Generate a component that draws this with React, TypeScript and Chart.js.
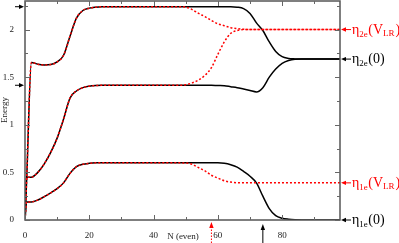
import React, { useEffect, useRef } from "react";
import { Chart, registerables } from "chart.js";
Chart.register(...registerables);

const N = [0, 0.5, 2, 4, 6, 8, 10, 12, 14, 16, 18, 20, 22, 24, 30, 40, 46, 48, 50, 52, 54, 56, 58, 60, 62, 64, 66, 68, 70, 72, 74, 76, 78, 80, 82, 84, 86, 90, 98];

const lowerBlack = [0, 0.19, 0.19, 0.21, 0.245, 0.285, 0.33, 0.39, 0.49, 0.56, 0.585, 0.595, 0.6, 0.6, 0.6, 0.6, 0.6, 0.6, 0.6, 0.6, 0.6, 0.6, 0.6, 0.6, 0.595, 0.58, 0.555, 0.51, 0.46, 0.39, 0.25, 0.12, 0.045, 0.018, 0.008, 0.003, 0.001, 0, 0];
const middleBlack = [0, 0.45, 0.45, 0.5, 0.59, 0.71, 0.86, 1.06, 1.28, 1.355, 1.39, 1.405, 1.412, 1.415, 1.415, 1.415, 1.415, 1.415, 1.415, 1.415, 1.415, 1.415, 1.415, 1.412, 1.41, 1.4, 1.39, 1.375, 1.36, 1.345, 1.39, 1.5, 1.585, 1.645, 1.675, 1.688, 1.69, 1.69, 1.69];
const upperBlack = [0, 0.41, 1.655, 1.635, 1.628, 1.632, 1.66, 1.73, 1.93, 2.12, 2.2, 2.225, 2.235, 2.24, 2.24, 2.24, 2.24, 2.24, 2.24, 2.24, 2.24, 2.24, 2.24, 2.24, 2.24, 2.24, 2.235, 2.22, 2.17, 2.07, 1.99, 1.87, 1.77, 1.715, 1.697, 1.692, 1.69, 1.69, 1.69];

const lowerRed = [0, 0.19, 0.19, 0.21, 0.245, 0.285, 0.33, 0.39, 0.49, 0.56, 0.585, 0.595, 0.6, 0.6, 0.6, 0.6, 0.6, 0.6, 0.598, 0.585, 0.55, 0.515, 0.47, 0.44, 0.412, 0.398, 0.391, 0.39, 0.39, 0.39, 0.39, 0.39, 0.39, 0.39, 0.39, 0.39, 0.39, 0.39, 0.39];
const middleRed = [0, 0.45, 0.45, 0.5, 0.59, 0.71, 0.86, 1.06, 1.28, 1.355, 1.39, 1.405, 1.412, 1.415, 1.415, 1.415, 1.415, 1.415, 1.42, 1.44, 1.47, 1.52, 1.6, 1.74, 1.87, 1.96, 1.99, 2.0, 2.0, 2.0, 2.0, 2.0, 2.0, 2.0, 2.0, 2.0, 2.0, 2.0, 2.0];
const upperRed = [0, 0.41, 1.655, 1.635, 1.628, 1.632, 1.66, 1.73, 1.93, 2.12, 2.2, 2.225, 2.235, 2.24, 2.24, 2.24, 2.24, 2.24, 2.235, 2.21, 2.17, 2.135, 2.095, 2.06, 2.04, 2.02, 2.01, 2.003, 2.0, 2.0, 2.0, 2.0, 2.0, 2.0, 2.0, 2.0, 2.0, 2.0, 2.0];

const xTickLabels = [0, 20, 40, 60, 80];
const xMinorTicks = [10, 30, 50, 70, 90];
const yTickLabels = [0, 0.5, 1, 1.5, 2];
const yMinorTicks = [0.25, 0.75, 1.25, 1.75, 2.25];

const rightLevels = [2.0, 1.69, 0.39, 0];
const rightSubs = ["2e", "2e", "1e", "1e"];
const rightArgs = ["VLR", "0", "VLR", "0"];
const leftArrowLevels = [2.24, 1.415];
const bottomArrowRed = 58;
const bottomArrowBlack = 74;

const RED = "#ff0000";
const SERIF = "'Liberation Serif', 'DejaVu Serif', serif";

function pts(vals: number[]) {
  return N.map((n, i) => ({ x: n, y: vals[i] }));
}

function arrowHead(ctx: CanvasRenderingContext2D, tx: number, ty: number, dx: number, dy: number, len: number, hw: number) {
  ctx.beginPath();
  ctx.moveTo(tx, ty);
  ctx.lineTo(tx - dx * len - dy * hw, ty - dy * len + dx * hw);
  ctx.lineTo(tx - dx * len + dy * hw, ty - dy * len - dx * hw);
  ctx.closePath();
  ctx.fill();
}

const decor = {
  id: "decor",
  afterDatasetsDraw(chart: any) {
    const { ctx, chartArea: a, scales } = chart;
    const x = scales.x;
    const y = scales.y;
    ctx.save();
    ctx.strokeStyle = "#555";
    ctx.lineWidth = 1.5;
    ctx.strokeRect(a.left, a.top, a.right - a.left, a.bottom - a.top);
    ctx.lineWidth = 1;
    ctx.strokeStyle = "#666";
    const tick = (vals: number[], len: number) => {
      vals.forEach((v) => {
        const px = Math.round(x.getPixelForValue(v)) + 0.5;
        ctx.beginPath();
        ctx.moveTo(px, a.bottom);
        ctx.lineTo(px, a.bottom - len);
        ctx.moveTo(px, a.top);
        ctx.lineTo(px, a.top + len);
        ctx.stroke();
      });
    };
    const ytick = (vals: number[], len: number) => {
      vals.forEach((v) => {
        const py = Math.round(y.getPixelForValue(v)) + 0.5;
        ctx.beginPath();
        ctx.moveTo(a.left, py);
        ctx.lineTo(a.left + len, py);
        ctx.moveTo(a.right, py);
        ctx.lineTo(a.right - len, py);
        ctx.stroke();
      });
    };
    tick(xTickLabels, 5);
    tick(xMinorTicks, 3);
    ytick(yTickLabels, 5);
    ytick(yMinorTicks, 3);

    // axis titles
    ctx.fillStyle = "#222";
    ctx.font = "9px " + SERIF;
    ctx.textAlign = "center";
    ctx.textBaseline = "middle";
    ctx.fillText("N (even)", 183, 237);
    ctx.save();
    ctx.translate(5, 110);
    ctx.rotate(-Math.PI / 2);
    ctx.fillText("Energy", 0, 0);
    ctx.restore();

    // left arrows
    ctx.fillStyle = "#000";
    ctx.strokeStyle = "#000";
    ctx.lineWidth = 1;
    leftArrowLevels.forEach((v) => {
      const py = y.getPixelForValue(v);
      ctx.beginPath();
      ctx.moveTo(15, py);
      ctx.lineTo(20, py);
      ctx.stroke();
      arrowHead(ctx, a.left - 1, py, 1, 0, 5, 2.2);
    });

    // bottom arrows
    const bx = x.getPixelForValue(bottomArrowBlack);
    ctx.beginPath();
    ctx.moveTo(bx, 243);
    ctx.lineTo(bx, 229);
    ctx.stroke();
    arrowHead(ctx, bx, 224, 0, -1, 6, 2.2);
    const rx = x.getPixelForValue(bottomArrowRed);
    ctx.strokeStyle = RED;
    ctx.fillStyle = RED;
    ctx.setLineDash([1.5, 1.5]);
    ctx.beginPath();
    ctx.moveTo(rx, 243);
    ctx.lineTo(rx, 227);
    ctx.stroke();
    ctx.setLineDash([]);
    arrowHead(ctx, rx, 222, 0, -1, 6, 2.2);

    // right labels
    rightLevels.forEach((v, i) => {
      const py = y.getPixelForValue(v);
      const col = rightArgs[i] === "VLR" ? RED : "#000";
      ctx.strokeStyle = col;
      ctx.fillStyle = col;
      ctx.lineWidth = 1;
      ctx.beginPath();
      ctx.moveTo(346, py);
      ctx.lineTo(351, py);
      ctx.stroke();
      arrowHead(ctx, a.right + 1, py, -1, 0, 5, 2.2);
      let cx = 352;
      const base = py + 4;
      ctx.textAlign = "left";
      ctx.textBaseline = "alphabetic";
      ctx.font = "14px " + SERIF;
      ctx.fillText("η", cx, base);
      cx += ctx.measureText("η").width;
      ctx.font = "9px " + SERIF;
      ctx.fillText(rightSubs[i], cx, base + 3);
      cx += ctx.measureText(rightSubs[i]).width + 0.5;
      ctx.font = "14px " + SERIF;
      if (rightArgs[i] === "VLR") {
        ctx.fillText("(V", cx, base);
        cx += ctx.measureText("(V").width;
        ctx.font = "9px " + SERIF;
        ctx.fillText("LR", cx, base + 2);
        cx += ctx.measureText("LR").width + 1;
        ctx.font = "14px " + SERIF;
        ctx.fillText(")", cx, base);
      } else {
        ctx.fillText("(" + rightArgs[i] + ")", cx, base);
      }
    });
    ctx.restore();
  },
};

export default function App() {
  const ref = useRef<HTMLCanvasElement | null>(null);
  useEffect(() => {
    if (!ref.current) return;
    const red = { borderColor: RED, borderWidth: 1.5, borderDash: [2, 2], pointRadius: 0, cubicInterpolationMode: "monotone" as const, fill: false };
    const black = { borderColor: "#000", borderWidth: 1.5, pointRadius: 0, cubicInterpolationMode: "monotone" as const, fill: false };
    const chart = new Chart(ref.current, {
      type: "line",
      data: {
        datasets: [
          { label: "upper VLR", data: pts(upperRed), ...red },
          { label: "middle VLR", data: pts(middleRed), ...red },
          { label: "lower VLR", data: pts(lowerRed), ...red },
          { label: "upper", data: pts(upperBlack), ...black },
          { label: "middle", data: pts(middleBlack), ...black },
          { label: "lower", data: pts(lowerBlack), ...black },
        ],
      },
      options: {
        animation: false,
        responsive: true,
        maintainAspectRatio: false,
        layout: { padding: { left: 0, right: 59, top: 1, bottom: 0 } },
        plugins: { legend: { display: false }, tooltip: { enabled: false } },
        scales: {
          x: {
            type: "linear",
            min: 0,
            max: 98,
            grid: { display: false },
            border: { display: false },
            afterBuildTicks: (s: any) => { s.ticks = xTickLabels.map((v) => ({ value: v })); },
            afterFit: (s: any) => { s.height = 23; s.paddingLeft = 0; s.paddingRight = 0; },
            ticks: { font: { family: SERIF, size: 9 }, color: "#222", padding: 2, maxRotation: 0, autoSkip: false },
          },
          y: {
            type: "linear",
            min: 0,
            max: 2.3,
            grid: { display: false },
            border: { display: false },
            afterBuildTicks: (s: any) => { s.ticks = yTickLabels.map((v) => ({ value: v })); },
            afterFit: (s: any) => { s.width = 25; s.paddingTop = 0; s.paddingBottom = 0; },
            ticks: { font: { family: SERIF, size: 9 }, color: "#222", padding: 3, autoSkip: false, callback: (v: any) => String(v) },
          },
        },
      },
      plugins: [decor],
    });
    return () => chart.destroy();
  }, []);
  return (
    <div style={{ position: "fixed", left: 0, top: 0, width: 399, height: 243, background: "#fff" }}>
      <canvas ref={ref} />
    </div>
  );
}
